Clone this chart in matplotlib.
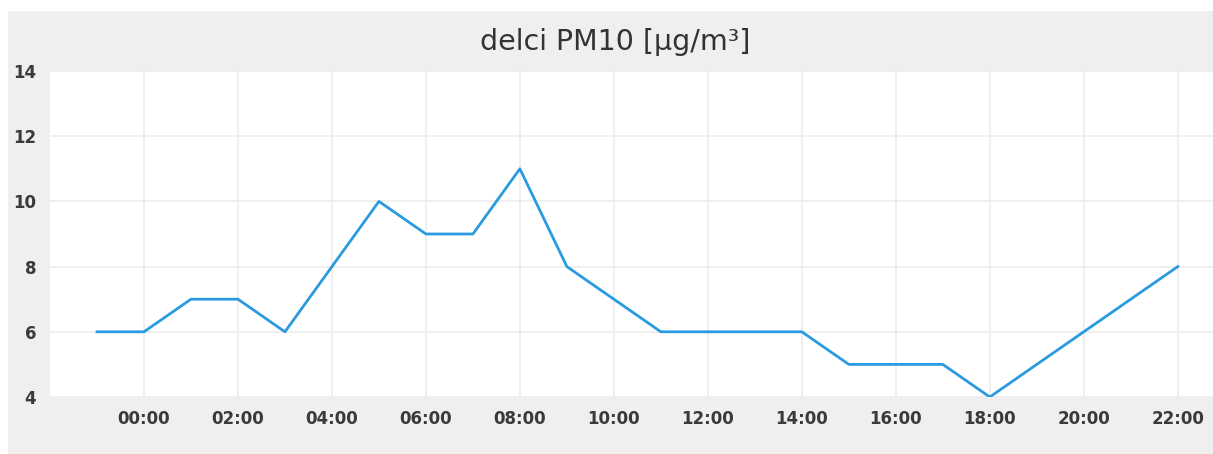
import matplotlib
matplotlib.use('Agg')
import matplotlib.pyplot as plt
from matplotlib.patches import Rectangle

# hodiny (23:00 predchadzajuceho dna = -1)
hours = [-1, 0, 1, 2, 3, 4, 5, 6, 7, 8, 9, 10, 11, 12, 13, 14, 15, 16, 17, 18, 19, 20, 21, 22]
pm10 = [6, 6, 7, 7, 6, 8, 10, 9, 9, 11, 8, 7, 6, 6, 6, 6, 5, 5, 5, 4, 5, 6, 7, 8]
xticks = [0, 2, 4, 6, 8, 10, 12, 14, 16, 18, 20, 22]
xlabels = ['%02d:00' % h for h in xticks]
yticks = [4, 6, 8, 10, 12, 14]

fig = plt.figure(figsize=(12.13, 4.54), dpi=100)
fig.patch.set_facecolor('white')
fig.patches.append(Rectangle((8 / 1213, 0), 1 - 8 / 1213, 1 - 11 / 454,
                             transform=fig.transFigure, facecolor='#efefef',
                             edgecolor='none', zorder=-10))

ax = fig.add_axes([50 / 1213, 1 - 397 / 454, 1 - 50 / 1213, (397 - 71) / 454])
ax.set_facecolor('white')
ax.plot(hours, pm10, color='#2b9be0', linewidth=2)

ax.set_xlim(-2, 22.75)
ax.set_ylim(4, 14)
ax.set_xticks(xticks)
ax.set_xticklabels(xlabels)
ax.set_yticks(yticks)
ax.grid(True, color='#ececec', linewidth=1.2)
ax.set_axisbelow(True)
for s in ax.spines.values():
    s.set_visible(False)
ax.tick_params(length=0, labelsize=12, labelcolor='#3a3a3a')
ax.tick_params(axis='x', pad=9)
ax.tick_params(axis='y', pad=10)
for t in ax.get_xticklabels() + ax.get_yticklabels():
    t.set_fontweight('bold')

fig.text(615 / 1213, 1 - 42 / 454, 'delci PM10 [µg/m³]', ha='center', va='center',
         fontsize=20.5, color='#333333')

fig.savefig('out.png', dpi=100, facecolor=fig.get_facecolor())
